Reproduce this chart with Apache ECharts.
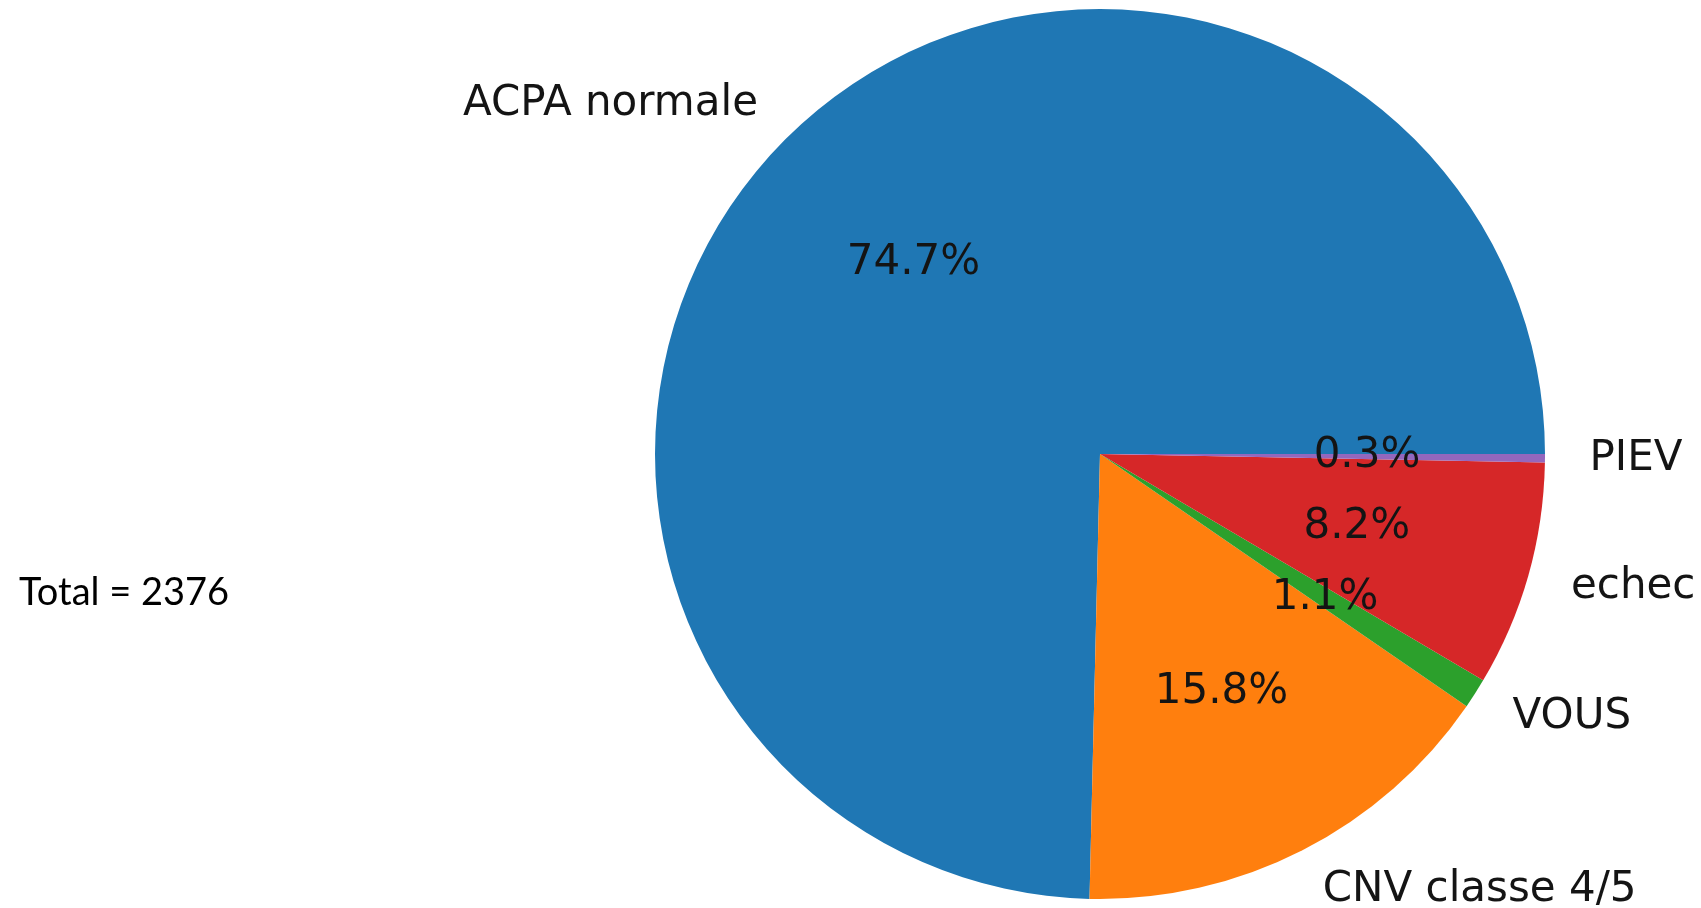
<!DOCTYPE html>
<html>
<head>
<meta charset="utf-8">
<title>Répartition des résultats</title>
<script src="https://cdn.jsdelivr.net/npm/echarts@6/dist/echarts.min.js"></script>
<style>
  html, body { margin: 0; padding: 0; background: #ffffff; }
  #chart { width: 1701px; height: 908px; }
</style>
</head>
<body>
<div id="chart"></div>
<script>
// Slice names and their shares (%) of all cases
const categories = ['ACPA normale', 'CNV classe 4/5', 'VOUS', 'echec', 'PIEV'];
const shares = [74.7, 15.8, 1.1, 8.2, 0.3];
const sliceColors = ['#1f77b4', '#ff7f0e', '#2ca02c', '#d62728', '#9467bd'];
const totalCount = 2376;

const CX = 1100, CY = 454, R = 445;
const textColor = '#141414';
const labelFont = 'DejaVu Sans';

const sliceData = categories.map((name, i) => ({
  name: name,
  value: shares[i],
  itemStyle: { color: sliceColors[i] }
}));
const ghostData = categories.map((name, i) => ({
  name: name,
  value: shares[i],
  itemStyle: { color: 'rgba(0,0,0,0)' }
}));

const chart = echarts.init(document.getElementById('chart'), null, { renderer: 'canvas' });

chart.setOption({
  animation: false,
  backgroundColor: '#ffffff',
  title: {
    text: 'Total = ' + totalCount,
    left: 14,
    top: 567,
    textStyle: {
      fontFamily: 'Lato',
      fontWeight: 'normal',
      fontSize: 38,
      lineHeight: 42,
      color: '#000000'
    }
  },
  series: [
    {
      // the pie itself
      type: 'pie',
      center: [CX, CY],
      radius: [0, R],
      startAngle: 0,
      clockwise: false,
      silent: true,
      avoidLabelOverlap: false,
      itemStyle: { borderWidth: 0 },
      label: { show: false },
      labelLine: { show: false },
      emphasis: { disabled: true },
      data: sliceData
    },
    {
      // percentage labels at 0.6 R
      type: 'pie',
      center: [CX, CY],
      radius: [0, 1.2 * R - 6],
      startAngle: 0,
      clockwise: false,
      silent: true,
      avoidLabelOverlap: false,
      itemStyle: { borderWidth: 0 },
      label: {
        show: true,
        position: 'inside',
        formatter: p => p.value.toFixed(1) + '%',
        fontFamily: labelFont,
        fontSize: 42,
        color: textColor
      },
      labelLine: { show: false },
      emphasis: { disabled: true },
      data: ghostData
    },
    {
      // category names at 1.1 R
      type: 'pie',
      center: [CX, CY],
      radius: [0, R],
      startAngle: 0,
      clockwise: false,
      silent: true,
      avoidLabelOverlap: false,
      itemStyle: { borderWidth: 0 },
      label: {
        show: true,
        position: 'outside',
        distanceToLabelLine: 0,
        formatter: '{b}',
        fontFamily: labelFont,
        fontSize: 42,
        color: textColor
      },
      labelLine: { show: false, length: 0.1 * R, length2: 0 },
      emphasis: { disabled: true },
      data: ghostData
    }
  ]
});
</script>
</body>
</html>
